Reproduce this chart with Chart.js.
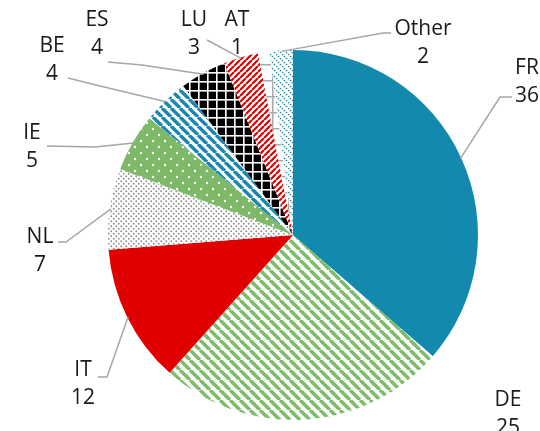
<!DOCTYPE html>
<html><head><meta charset="utf-8">
<script src="https://cdn.jsdelivr.net/npm/chart.js@4"></script>
<style>html,body{margin:0;padding:0;background:#fff;overflow:hidden}canvas{display:block}</style>
</head>
<body>
<canvas id="c" width="540" height="431"></canvas>
<script>
const categories = ['FR','DE','IT','NL','IE','BE','ES','LU','AT','Other'];
const values = [36,25,12,7,5,4,4,3,1,2];

// label layout (positions only): name line centre, leader start and optional elbow
const labelLayout = {
  FR:    {x:527, y:68,  lead:[[512,97],[500,97]]},
  DE:    {x:508, y:400, lead:null},
  IT:    {x:83,  y:370, lead:[[98,377],[107,377]]},
  NL:    {x:40,  y:237, lead:[[58,242],[66,242]]},
  IE:    {x:32,  y:133, lead:[[47,146],[95,147]]},
  BE:    {x:52,  y:46,  lead:[[68,78],[100,86]]},
  ES:    {x:97,  y:20,  lead:[[108,62],[142,65]]},
  LU:    {x:194, y:20,  lead:[[207,40]]},
  AT:    {x:237, y:20,  lead:null},
  Other: {x:423, y:29,  lead:[[391,33],[383,33]]}
};

const canvas = document.getElementById('c');
const mainCtx = canvas.getContext('2d');

function mk(w, h, draw) {
  const c = document.createElement('canvas');
  c.width = w; c.height = h;
  const x = c.getContext('2d');
  draw(x, w, h);
  return mainCtx.createPattern(c, 'repeat');
}
function stripes(s, lw, color, dir) {
  return mk(s, s, (x) => {
    x.fillStyle = '#fff'; x.fillRect(0,0,s,s);
    x.strokeStyle = color; x.lineWidth = lw;
    x.beginPath();
    for (let i = -1; i <= 1; i++) {
      if (dir === 'back') { x.moveTo(i*s, 0); x.lineTo(i*s + s, s); }
      else { x.moveTo(i*s, s); x.lineTo(i*s + s, 0); }
    }
    x.stroke();
  });
}
function grid(s, lw, bg, color) {
  return mk(s, s, (x) => {
    x.fillStyle = bg; x.fillRect(0,0,s,s);
    x.fillStyle = color;
    x.fillRect(0,0,s,lw);
    x.fillRect(0,0,lw,s);
  });
}
function dots(s, r, bg, color) {
  return mk(s, s, (x) => {
    x.fillStyle = bg; x.fillRect(0,0,s,s);
    x.fillStyle = color;
    [[s*0.25,s*0.25],[s*0.75,s*0.75]].forEach(([a,b]) => {
      x.beginPath(); x.arc(a,b,r,0,Math.PI*2); x.fill();
    });
  });
}
function dottedDiag(s, color) {
  return mk(s, s, (x) => {
    x.fillStyle = '#fff'; x.fillRect(0,0,s,s);
    x.fillStyle = color;
    for (let k = 0; k < s; k += 2) {
      x.beginPath(); x.arc(k+0.5, k+0.5, 0.85, 0, Math.PI*2); x.fill();
    }
  });
}

const fills = [
  '#1289AD',                              // FR
  stripes(10, 3.6, '#7DBD69', 'back'),    // DE
  '#E00000',                              // IT
  dots(5, 0.95, '#fff', '#8f8f8f'),       // NL
  dots(12, 1.2, '#7DB968', '#fff'),       // IE
  stripes(9, 3.4, '#1B86B0', 'back'),     // BE
  grid(9, 1.6, '#000', '#fff'),           // ES
  stripes(6, 2.2, '#E00000', 'fwd'),      // LU
  grid(16, 1.5, '#fff', '#aaaaaa'),       // AT
  dottedDiag(6, '#1B86B0')                // Other
];

const labelPlugin = {
  id: 'labels',
  afterDraw(chart) {
    const ctx = chart.ctx;
    const meta = chart.getDatasetMeta(0);
    ctx.save();
    meta.data.forEach((arc, i) => {
      const name = categories[i];
      const L = labelLayout[name];
      const p = arc.getProps(['x','y','startAngle','endAngle','outerRadius'], true);
      const mid = (p.startAngle + p.endAngle) / 2;
      const ex = p.x + Math.cos(mid) * (p.outerRadius - 1);
      const ey = p.y + Math.sin(mid) * (p.outerRadius - 1);
      if (L.lead) {
        ctx.strokeStyle = '#a6a6a6';
        ctx.lineWidth = 1.5;
        ctx.beginPath();
        ctx.moveTo(L.lead[0][0], L.lead[0][1]);
        for (let k = 1; k < L.lead.length; k++) ctx.lineTo(L.lead[k][0], L.lead[k][1]);
        ctx.lineTo(ex, ey);
        ctx.stroke();
      }
      ctx.fillStyle = '#1a1a1a';
      ctx.font = '21px "Open Sans", "Noto Sans", sans-serif';
      ctx.textAlign = 'center';
      ctx.textBaseline = 'middle';
      ctx.fillText(name, L.x, L.y);
      ctx.fillText(String(values[i]), L.x, L.y + 28);
    });
    ctx.restore();
  }
};

new Chart(canvas, {
  type: 'pie',
  data: {
    labels: categories,
    datasets: [{ data: values, backgroundColor: fills, borderWidth: 0 }]
  },
  options: {
    responsive: false,
    animation: false,
    layout: { padding: { left: 108, right: 62, top: 50, bottom: 11 } },
    plugins: { legend: { display: false }, tooltip: { enabled: false } }
  },
  plugins: [labelPlugin]
});
</script>
</body></html>
